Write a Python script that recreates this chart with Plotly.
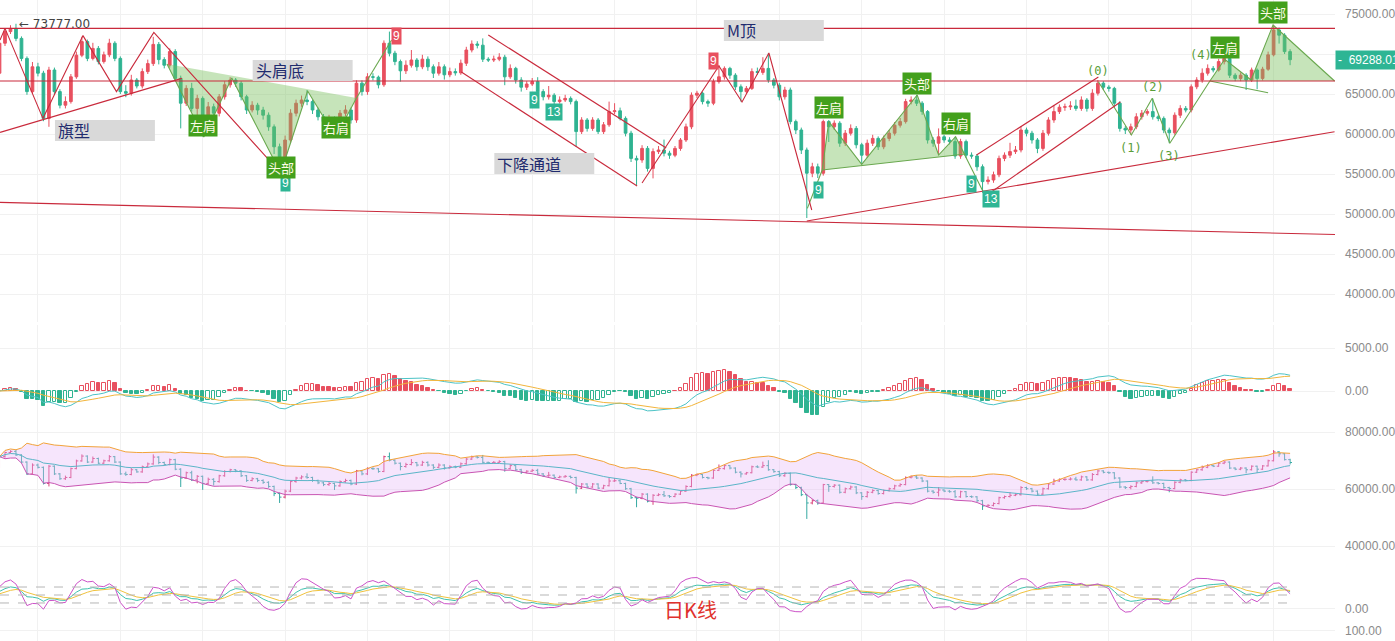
import plotly.graph_objects as go
import pandas as pd

# ---------------- data (daily candles, index 0..235) ----------------
first_open = 67600
closes = [
    71350, 72800, 73200, 71950, 69450, 65300, 68400, 67600, 61950, 68000,
    65300, 63600, 64050, 67150, 69850, 71550, 69450, 70700, 69050, 69900,
    71350, 69450, 65300, 65100, 66750, 66000, 67800, 68800, 71200, 69300,
    68600, 70300, 66950, 63850, 65700, 63200, 64450, 61950, 63400, 62600,
    64650, 66150, 66750, 66350, 64650, 63000, 63600, 63000, 62350, 60900,
    58400, 57150, 59250, 62600, 63850, 64250, 64050, 63000, 62150, 61550,
    61950, 61100, 62600, 63000, 61750, 66350, 65300, 67150, 67100, 66150,
    71350, 70100, 69050, 67900, 68600, 69250, 68400, 69350, 68400, 67600,
    68400, 67400, 67800, 67650, 68850, 70500, 71250, 71100, 69350, 69250,
    69350, 69600, 67150, 68200, 66750, 65850, 66250, 66550, 65300, 64650,
    64850, 64050, 64250, 64450, 64050, 60300, 61750, 60700, 61750, 60300,
    61150, 62800, 62900, 61950, 60100, 56950, 56750, 58200, 55700, 57800,
    58000, 57600, 57350, 58200, 59250, 60900, 64850, 65100, 64050, 63850,
    66550, 67150, 68200, 67350, 65900, 65300, 65700, 67800, 67700, 68200,
    66750, 66100, 64650, 65500, 61550, 60500, 58000, 55100, 55900, 55100,
    61550, 60900, 61350, 58850, 60100, 60700, 58650, 57350, 58850, 59450,
    58400, 59450, 60100, 61100, 61550, 64050, 64250, 63850, 62800, 59250,
    58850, 59650, 59250, 59050, 57250, 59050, 57350, 57250, 55900, 54050,
    54250, 54900, 56950, 57350, 57800, 58000, 60500, 60100, 59250, 58200,
    60100, 61750, 62800, 63350, 63400, 63500, 63200, 64250, 63200, 65100,
    66350, 65850, 65700, 63850, 60700, 60500, 60900, 62150, 62600, 62800,
    62150, 61950, 60500, 60150, 62350, 63200, 63000, 65900, 66750, 67600,
    68200, 68000, 69050, 69450, 67350, 66950, 67350, 66750, 68000, 66950,
    68100, 69900, 73000, 72350, 70300, 69288.01,
]
highs = [
    71800, 73100, 73600, 73777, 72200, 69700, 69000, 68900, 67900, 68400,
    68300, 65600, 64700, 67500, 70300, 72150, 71800, 71400, 71000, 70300,
    71900, 71600, 69700, 66100, 67400, 67000, 68200, 69300, 72150, 71500,
    69600, 70700, 70600, 67300, 66100, 66400, 64900, 64700, 64000, 63800,
    65000, 66600, 67100, 67000, 66600, 64900, 64100, 63900, 63400, 62700,
    61200, 58800, 59800, 63100, 64300, 64800, 65500, 64300, 63300, 62500,
    62400, 62200, 63000, 63600, 63300, 66700, 66700, 67600, 67600, 67300,
    71700, 72800, 70400, 69300, 69200, 70500, 69500, 69900, 69700, 68700,
    69000, 68700, 68300, 68200, 69300, 70900, 71700, 71600, 71950, 69600,
    69800, 70100, 69900, 68700, 68400, 67100, 66600, 67000, 67100, 65600,
    66000, 65100, 64700, 64900, 64700, 64300, 62100, 62000, 62100, 62000,
    61500, 64050, 63850, 63300, 62200, 60400, 57300, 58600, 58500, 58200,
    58500, 59300, 57900, 58500, 59500, 61300, 65200, 65400, 65300, 64300,
    66900, 68600, 68450, 68400, 67600, 66200, 66000, 68200, 68300, 69600,
    70100, 67000, 66400, 65900, 65800, 61800, 60800, 58300, 56400, 56300,
    61800, 61750, 61700, 61600, 60500, 61200, 61000, 58900, 59300, 59900,
    59700, 59800, 60500, 61500, 62000, 64400, 64700, 64900, 64100, 63000,
    59600, 60700, 59900, 59600, 59650, 59400, 59300, 57700, 57500, 56200,
    54700, 55300, 57300, 57700, 58900, 58500, 61000, 60800, 60400, 59500,
    60500, 62100, 63600, 63700, 63800, 64100, 64300, 64700, 64500, 65600,
    66750, 66600, 66100, 65900, 64100, 61000, 61300, 62600, 63000, 63100,
    64450, 62400, 62200, 60800, 62700, 63600, 63500, 66200, 67100, 68200,
    68700, 68500, 69400, 69900, 69700, 67600, 67700, 67600, 68300, 68200,
    68400, 70300, 73650, 73300, 72600, 70600,
]
lows = [
    67300, 71000, 72500, 71600, 69100, 64900, 65000, 67200, 61600, 60900,
    64900, 63200, 63200, 63800, 66900, 69600, 69100, 69200, 68700, 68800,
    69600, 69100, 65000, 64600, 64800, 65700, 65700, 67500, 68500, 68700,
    68200, 68300, 66600, 60700, 63500, 62800, 62000, 59700, 61500, 61200,
    62200, 64300, 65800, 65900, 64200, 62500, 62700, 62400, 61800, 60400,
    57500, 55100, 56700, 58900, 62200, 63400, 63600, 62500, 61700, 61000,
    61100, 59650, 60800, 62200, 61300, 61400, 64800, 64900, 66700, 65700,
    65900, 69700, 68600, 66550, 67500, 68300, 67900, 68100, 67900, 67000,
    67300, 66800, 67100, 67300, 67400, 68500, 70200, 70700, 69000, 69000,
    69000, 69100, 66100, 66900, 66300, 65300, 65500, 66000, 64900, 64200,
    64300, 63600, 63800, 64000, 63700, 58400, 60000, 60300, 60400, 60000,
    60000, 60900, 62500, 61700, 59700, 56500, 53600, 56400, 55300, 54450,
    57500, 57200, 56900, 57100, 57900, 59000, 60600, 64500, 63700, 63400,
    63600, 66300, 66800, 66900, 65500, 64050, 65000, 65500, 67400, 67400,
    66400, 65700, 64200, 64300, 61200, 60000, 57500, 49500, 54600, 54500,
    54800, 59000, 60500, 58400, 58500, 59800, 58200, 56200, 57000, 58500,
    58000, 58100, 59100, 59800, 60800, 61300, 63700, 63500, 62400, 58800,
    58400, 57400, 58900, 58700, 56900, 56900, 57000, 56900, 55400, 52650,
    53700, 53900, 54600, 56600, 57000, 57500, 57700, 59700, 58800, 57600,
    57900, 59800, 61400, 62500, 62900, 63000, 62900, 62900, 62800, 62900,
    64800, 65500, 65300, 63400, 60300, 60000, 59900, 60600, 61800, 62300,
    61800, 61600, 60100, 58850, 59900, 62000, 62700, 62700, 65600, 66400,
    67300, 67700, 67800, 68700, 67000, 66600, 66600, 65500, 66500, 65600,
    66700, 67900, 69700, 71300, 70000, 68600,
]
opens = [first_open] + closes[:-1]          # 24h market: open = previous close
idx = list(range(len(closes)))

# ---------------- analyst drawings (candle index, price) ----------------
hline_prices = [73200, 66625]
long_down_x, long_down_y = [0, 243.2], [51450, 47430]
flag_up_x, flag_up_y = [0.1, 33.2], [60200, 66950]
flag_zig_x = [0.1, 1.0, 7.9, 15.2, 21.3, 28.1, 51.2]
flag_zig_y = [71750, 73200, 61950, 72300, 65300, 72700, 55125]
hsb_x = [30.5, 37.2, 42.3, 51.2, 56.1, 61.2, 65.0]
hsb_y = [68750, 59625, 67000, 55125, 65375, 59625, 64500]
hsb_break_x, hsb_break_y = [65.0, 71.4], [64500, 71750]
chan_up_x, chan_up_y = [89.0, 121.4], [72375, 58250]
chan_lo_x, chan_lo_y = [84.1, 116.1], [67750, 53500]
mtop_x = [117.0, 131.0, 135.2, 140.1, 147.9]
mtop_y = [53875, 68500, 64000, 70125, 50500]
rise_long_x, rise_long_y = [147.0, 243.1], [49125, 60290]
hst_x = [147.1, 149.8, 151.0, 157.0, 167.1, 171.0, 174.1, 179.2]
hst_y = [50700, 55500, 61540, 56210, 64875, 57375, 59660, 52660]
hst_neck_x, hst_neck_y = [149.8, 175.9], [55500, 57500]
hst_fill_x = [149.8, 151.0, 157.0, 167.1, 171.0, 174.1, 175.9]
hst_fill_y = [55500, 61540, 56210, 64875, 57375, 59660, 57500]
rchan_up_x, rchan_up_y = [177.9, 200.1], [57375, 67125]
rchan_lo_x, rchan_lo_y = [180.6, 204.1], [52750, 64000]
wave_x = [200.1, 206.1, 209.9, 213.1, 220.4]
wave_y = [66540, 59875, 64460, 58840, 66625]
hs2_x = [220.4, 223.1, 227.9, 231.9, 243.1]
hs2_y = [66625, 69340, 66750, 73625, 66625]
hs2_neck_x, hs2_neck_y = [220.4, 231.0], [66625, 65160]

wave_lbl = ['(0)', '(1)', '(2)', '(3)', '(4)']
wave_lbl_x = [200.0, 206.0, 210.0, 213.0, 218.8]
wave_lbl_y = [67875, 58250, 65875, 57250, 69875]

hs_lbl = ['左肩', '头部', '右肩', '左肩', '头部', '右肩', '左肩', '头部']
hs_lbl_x = [37.0, 51.2, 61.2, 151.0, 167.0, 174.1, 223.2, 231.9]
hs_lbl_y = [61125, 55875, 60875, 63375, 66375, 61375, 70875, 75250]

box_txt = ['旗型', '头肩底', '下降通道', 'M顶']
box_x = [10.1, 46.1, 90.1, 131.9]
box_y = [60440, 67940, 56310, 72940]

td_txt = ['9', '9', '9', '13', '9', '9', '9', '13']
td_x = [52.0, 72.2, 97.4, 101.0, 130.1, 149.2, 177.0, 180.6]
td_y = [53900, 72250, 64250, 62750, 69125, 53000, 53750, 51875]
td_up = [False, True, False, False, True, False, False, False]

high_mark = 73777.00
high_mark_idx = 3
last_price = 69288.01

# ---------------- indicators (standard definitions on the data) ----------------
cs = pd.Series(closes, dtype=float)
ema12 = cs.ewm(span=12, adjust=False).mean()
ema26 = cs.ewm(span=26, adjust=False).mean()
dif = ema12 - ema26
dea = dif.ewm(span=9, adjust=False).mean()
macd_hist = 2 * (dif - dea)

boll_mid = cs.rolling(20, min_periods=1).mean()
boll_sd = cs.rolling(20, min_periods=1).std(ddof=0).fillna(0)
boll_up = boll_mid + 2 * boll_sd
boll_dn = boll_mid - 2 * boll_sd

hh = pd.Series(highs, dtype=float).rolling(9, min_periods=1).max()
ll = pd.Series(lows, dtype=float).rolling(9, min_periods=1).min()
rsv = ((cs - ll) / (hh - ll) * 100).fillna(50)
kv, dv = [], []
k_prev, d_prev = 50.0, 50.0
for r in rsv:
    k_prev = 2 / 3 * k_prev + r / 3
    d_prev = 2 / 3 * d_prev + k_prev / 3
    kv.append(k_prev)
    dv.append(d_prev)
jv = [3 * k - 2 * d for k, d in zip(kv, dv)]

# ---------------- styling ----------------
RED = '#e8505f'
TEAL = '#2fb391'
PAT_RED = '#c92a3c'
GREEN_LINE = '#6aa84f'
GREEN_FILL = 'rgba(120,190,90,0.42)'
LBL_GREEN = '#43a01c'
AX_FONT = dict(family='Arial', size=12, color='#8a8a8a')
H = 641.0

fig = go.Figure()

# main candles
fig.add_trace(go.Candlestick(
    x=idx, open=opens, high=highs, low=lows, close=closes,
    increasing=dict(line=dict(color=RED, width=1), fillcolor=RED),
    decreasing=dict(line=dict(color=TEAL, width=1), fillcolor=TEAL),
    whiskerwidth=0, xaxis='x', yaxis='y', hoverinfo='skip', showlegend=False))


def line(xs, ys, color=PAT_RED, width=1.1, fill=None, fillcolor=None, yaxis='y'):
    fig.add_trace(go.Scatter(x=xs, y=ys, mode='lines', line=dict(color=color, width=width),
                             fill=fill, fillcolor=fillcolor, xaxis='x', yaxis=yaxis,
                             hoverinfo='skip', showlegend=False))


# green pattern fills
line(hsb_x, hsb_y, color=GREEN_LINE, width=1.1, fill='toself', fillcolor=GREEN_FILL)
line(hst_fill_x, hst_fill_y, color='rgba(0,0,0,0)', width=0, fill='toself', fillcolor=GREEN_FILL)
line(hs2_x, hs2_y, color=GREEN_LINE, width=1.1, fill='toself', fillcolor=GREEN_FILL)
line(hst_x, hst_y, color=GREEN_LINE)
line(hst_neck_x, hst_neck_y, color=GREEN_LINE)
line(hsb_break_x, hsb_break_y, color=GREEN_LINE)
line(wave_x, wave_y, color=GREEN_LINE)
line(hs2_neck_x, hs2_neck_y, color=GREEN_LINE)

# red drawings
for p in hline_prices:
    line([0.09, 243.18], [p, p])
line(long_down_x, long_down_y)
line(flag_up_x, flag_up_y)
line(flag_zig_x, flag_zig_y)
line(chan_up_x, chan_up_y)
line(chan_lo_x, chan_lo_y)
line(mtop_x, mtop_y)
line(rise_long_x, rise_long_y)
line(rchan_up_x, rchan_up_y)
line(rchan_lo_x, rchan_lo_y)

# MACD
fills, edges = [], []
for i, hv in enumerate(macd_hist):
    c = RED if hv >= 0 else TEAL
    hollow = i > 0 and hv > macd_hist.iloc[i - 1]
    fills.append('white' if hollow else c)
    edges.append(c)
fig.add_trace(go.Bar(x=idx, y=macd_hist, width=0.62, marker=dict(color=fills, line=dict(color=edges, width=1)),
                     xaxis='x', yaxis='y2', hoverinfo='skip', showlegend=False))
line(idx, dif, color='#4cc3c6', width=1, yaxis='y2')
line(idx, dea, color='#f2b53c', width=1, yaxis='y2')

# BOLL
line(idx, boll_up, color='#f2a33a', width=1, yaxis='y3')
line(idx, boll_dn, color='#c955b3', width=1, yaxis='y3', fill='tonexty', fillcolor='rgba(228,180,245,0.35)')
line(idx, boll_mid, color='#5bb5c8', width=1, yaxis='y3')
fig.add_trace(go.Ohlc(x=idx, open=opens, high=highs, low=lows, close=closes, tickwidth=0.35,
                      increasing=dict(line=dict(color='#d9437a', width=1)),
                      decreasing=dict(line=dict(color='#35a9a2', width=1)),
                      xaxis='x', yaxis='y3', hoverinfo='skip', showlegend=False))

# KDJ
line(idx, kv, color='#3fc2ad', width=1, yaxis='y4')
line(idx, dv, color='#f0c23e', width=1, yaxis='y4')
line(idx, jv, color='#cc52c8', width=1, yaxis='y4')
for lv in (20, 50, 80):
    fig.add_shape(type='line', xref='x', yref='y4', x0=0.09, x1=235.5, y0=lv, y1=lv,
                  line=dict(color='#b5b5b5', width=1, dash='dash'))

# empty bottom pane (only its scale shows)
fig.add_trace(go.Scatter(x=[None], y=[None], mode='lines', xaxis='x', yaxis='y5',
                         hoverinfo='skip', showlegend=False))

# gray text boxes
for t, bx, by in zip(box_txt, box_x, box_y):
    fig.add_shape(type='rect', xref='x', yref='y', x0=bx, x1=bx + 18.2, y0=by - 1312, y1=by + 1312,
                  fillcolor='#d9d9d9', line=dict(width=0), layer='above')
    fig.add_annotation(x=bx, y=by, xref='x', yref='y', text=t, showarrow=False, xanchor='left',
                       yanchor='middle', xshift=1,
                       font=dict(family='Noto Sans CJK SC', size=16, color='#1f2b6e'))

# TD count markers
for t, tx, ty, up in zip(td_txt, td_x, td_y, td_up):
    fig.add_annotation(x=tx, y=ty, xref='x', yref='y', text=t, showarrow=False,
                       bgcolor=RED if up else '#2eb594', borderpad=1,
                       font=dict(family='Arial', size=12, color='white'))

# pattern labels
for t, lx, ly in zip(hs_lbl, hs_lbl_x, hs_lbl_y):
    fig.add_annotation(x=lx, y=ly, xref='x', yref='y', text=t, showarrow=False,
                       bgcolor=LBL_GREEN, borderpad=1,
                       font=dict(family='Noto Sans CJK SC', size=13, color='#fdfbe6'))
for t, lx, ly in zip(wave_lbl, wave_lbl_x, wave_lbl_y):
    fig.add_annotation(x=lx, y=ly, xref='x', yref='y', text=t, showarrow=False,
                       font=dict(family='DejaVu Sans Mono', size=12, color='#5a9e3a'))

fig.add_annotation(x=high_mark_idx, y=high_mark, xref='x', yref='y', text='← %.2f' % high_mark,
                   showarrow=False, xanchor='left', xshift=1,
                   font=dict(family='DejaVu Sans', size=12, color='#444444'))
fig.add_annotation(x=1, y=last_price, xref='paper', yref='y', text='-  %.2f' % last_price,
                   showarrow=False, xanchor='left', xshift=0, bgcolor='#2eb594', borderpad=2,
                   font=dict(family='Arial', size=12, color='white'))
fig.add_annotation(x=692 / 1337, y=1 - 626 / H, xref='paper', yref='paper', text='日K线', showarrow=False,
                   font=dict(family='Noto Sans CJK SC', size=20, color='#e0312c'))


def yax(dom_top_px, dom_bot_px, rng, tickvals, ticktext=None):
    d = dict(domain=[1 - dom_bot_px / H, 1 - dom_top_px / H], range=rng, side='right', anchor='x',
             tickvals=tickvals, tickformat='.2f', tickfont=AX_FONT, showgrid=True,
             gridcolor='#f1f1f1', zeroline=False, showline=False, ticks='', ticklabelstandoff=9,
             fixedrange=True)
    if ticktext is not None:
        d['ticktext'] = ticktext
    return d


main_ticks = list(range(40000, 75001, 5000))
main_text = ['' if v == 70000 else '%.2f' % v for v in main_ticks]   # hidden behind last-price tag

fig.update_layout(
    width=1395, height=641, margin=dict(l=0, r=58, t=0, b=0),
    paper_bgcolor='white', plot_bgcolor='white', showlegend=False,
    xaxis=dict(domain=[0, 1], range=[0.09, 243.18], showticklabels=False, tickvals=list(range(7, 236, 15)),
               showgrid=True, gridcolor='#f1f1f1', zeroline=False, showline=False, ticks='',
               rangeslider=dict(visible=False)),
    yaxis=yax(0, 322, [36500, 76750], main_ticks, main_text),
    yaxis2=yax(325, 422, [-3605, 7674], [0, 5000]),
    yaxis3=yax(422, 570, [31579, 83509], [40000, 60000, 80000]),
    yaxis4=yax(570, 620, [-44, 144], [0]),
    yaxis5=yax(620, 641, [80, 120], [100]),
    bargap=0,
)

fig.write_html('out.html')
